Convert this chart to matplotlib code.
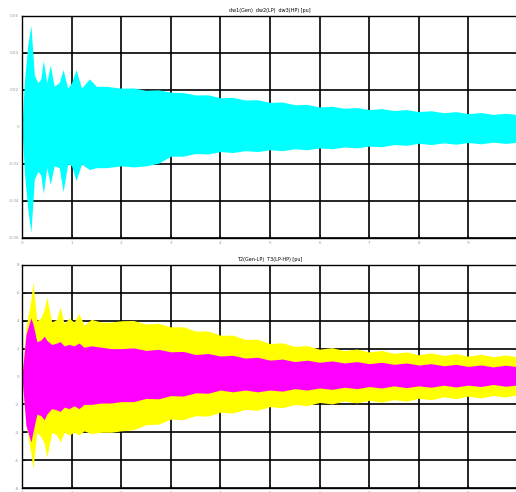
"""
Torsional oscillation plot: speed deviations and shaft torques.
"""

import matplotlib.pyplot as plt

# speed deviations [pu] - band envelope (peaks)
t_speed = [0, 0.05, 0.12, 0.18, 0.25, 0.32, 0.38, 0.43, 0.5, 0.57, 0.65, 0.75, 0.83,
           0.92, 1.0, 1.09, 1.2, 1.36, 1.5, 1.7, 2.0,
           2.25, 2.5, 2.75, 3.0, 3.25, 3.5, 3.75, 4.0, 4.25, 4.5, 4.75, 5.0, 5.25, 5.5,
           5.75, 6.0, 6.25, 6.5, 6.75, 7.0, 7.25, 7.5, 7.75, 8.0, 8.25, 8.5, 8.75, 9.0,
           9.25, 9.5, 9.75, 10.0]
dw_upper = [0.0, 0.025, 0.045, 0.055, 0.028, 0.024, 0.026, 0.036, 0.024, 0.0335, 0.022,
            0.024, 0.031, 0.021, 0.024, 0.031, 0.021, 0.026, 0.022, 0.022, 0.021,
            0.0211, 0.0198, 0.0201, 0.0188, 0.0186, 0.0173, 0.0174, 0.0158, 0.0160,
            0.0146, 0.0147, 0.0133, 0.0135, 0.0120, 0.0122, 0.0108, 0.0112, 0.0101,
            0.0105, 0.0094, 0.0099, 0.0089, 0.0094, 0.0083, 0.0088, 0.0077, 0.0083,
            0.0072, 0.0078, 0.0068, 0.0074, 0.0067]
dw_lower = [0.0, -0.025, -0.045, -0.057, -0.028, -0.024, -0.026, -0.036, -0.022, -0.031,
            -0.021, -0.022, -0.035, -0.02, -0.021, -0.029, -0.02, -0.023, -0.022, -0.022,
            -0.021,
            -0.0216, -0.0210, -0.0196, -0.0158, -0.0158, -0.0143, -0.0146, -0.0133,
            -0.0138, -0.0128, -0.0133, -0.0123, -0.0128, -0.0118, -0.0123, -0.0113,
            -0.0118, -0.0108, -0.0113, -0.0103, -0.0107, -0.0095, -0.0099, -0.0088,
            -0.0095, -0.0086, -0.0093, -0.0084, -0.0091, -0.0082, -0.0089, -0.0082]

# shaft torques [pu]
t_torque = [0, 0.08, 0.18, 0.22, 0.3, 0.38, 0.45, 0.5, 0.6, 0.7, 0.77, 0.85, 0.95, 1.05,
            1.15, 1.25, 1.4, 1.6, 1.8, 2.0,
            2.25, 2.5, 2.75, 3.0, 3.25, 3.5, 3.75, 4.0, 4.25, 4.5, 4.75, 5.0, 5.25, 5.5,
            5.75, 6.0, 6.25, 6.5, 6.75, 7.0, 7.25, 7.5, 7.75, 8.0, 8.25, 8.5, 8.75, 9.0,
            9.25, 9.5, 9.75, 10.0]
t3_upper = [0, 3.5, 5.5, 6.8, 4.0, 4.2, 4.8, 5.7, 3.9, 4.1, 5.0, 3.8, 4.2, 3.9, 4.5, 3.7,
            4.1, 3.9, 3.9, 4.0,
            4.02, 3.76, 3.82, 3.56, 3.57, 3.26, 3.27, 2.96, 2.97, 2.66, 2.67, 2.36, 2.42,
            2.16, 2.22, 1.96, 2.07, 1.86, 1.97, 1.76, 1.87, 1.66, 1.77, 1.56, 1.70, 1.51,
            1.64, 1.46, 1.60, 1.41, 1.54, 1.4]
t3_lower = [0, -3.5, -5.5, -6.6, -4.0, -4.3, -4.8, -5.8, -4.0, -4.2, -4.7, -4.0, -4.2,
            -4.0, -4.2, -3.9, -4.1, -4.0, -4.0, -3.9,
            -3.82, -3.46, -3.42, -3.06, -3.09, -2.81, -2.84, -2.56, -2.62, -2.36, -2.42,
            -2.16, -2.24, -2.01, -2.09, -1.86, -1.97, -1.76, -1.89, -1.71, -1.84, -1.66,
            -1.77, -1.56, -1.67, -1.46, -1.59, -1.41, -1.54, -1.36, -1.47, -1.3]
t2_upper = [0, 3.0, 4.2, 3.8, 2.5, 2.6, 2.9, 2.6, 2.3, 2.4, 2.5, 2.2, 2.3, 2.2, 2.4, 2.1,
            2.2, 2.1, 2.0, 2.0,
            2.05, 1.87, 1.95, 1.77, 1.8, 1.57, 1.65, 1.47, 1.52, 1.32, 1.38, 1.17, 1.25,
            1.07, 1.17, 1.02, 1.12, 0.97, 1.07, 0.92, 1.02, 0.87, 0.97, 0.82, 0.92, 0.77,
            0.87, 0.72, 0.83, 0.69, 0.81, 0.7]
t2_lower = [0, -3.5, -4.7, -4.0, -2.7, -2.8, -3.1, -2.7, -2.3, -2.4, -2.5, -2.2, -2.3,
            -2.1, -2.3, -2.0, -2.0, -1.9, -1.9, -1.8,
            -1.8, -1.57, -1.6, -1.37, -1.4, -1.17, -1.2, -0.97, -1.1, -0.97, -1.1, -0.97,
            -1.05, -0.87, -0.97, -0.82, -0.92, -0.77, -0.87, -0.72, -0.82, -0.67, -0.8,
            -0.67, -0.77, -0.62, -0.75, -0.62, -0.72, -0.57, -0.7, -0.6]

x_ticks = list(range(0, 11))
speed_ticks = [-0.06, -0.04, -0.02, 0, 0.02, 0.04, 0.06]
speed_labels = ["-0.06", "-0.04", "-0.02", "0", "0.02", "0.04", "0.06"]
torque_ticks = [-8, -6, -4, -2, 0, 2, 4, 6, 8]


def style_axes(ax, yticks, ylabels):
    ax.set_xlim(0, 10)
    ax.set_xticks(x_ticks)
    ax.set_yticks(yticks)
    ax.set_yticklabels(ylabels)
    ax.grid(True, color="black", linewidth=1.2, linestyle="-")
    ax.set_axisbelow(True)
    ax.tick_params(direction="in", length=2, width=0.6, labelsize=3,
                   labelcolor="#999999", pad=2)
    for spine in ax.spines.values():
        spine.set_linewidth(1.0)


fig = plt.figure(figsize=(5.16, 4.92), dpi=100)

# upper panel: speed deviations
ax1 = fig.add_axes([0.0426, 0.5163, 0.9612, 0.4512])
ax1.fill_between(t_speed, dw_lower, dw_upper, color="#00ffff", linewidth=0)
ax1.set_ylim(-0.06, 0.06)
style_axes(ax1, speed_ticks, speed_labels)
ax1.set_title("dw1(Gen)  dw2(LP)  dw3(HP) [pu]", fontsize=3.5, pad=3)

# lower panel: shaft torques
ax2 = fig.add_axes([0.0426, 0.0081, 0.9612, 0.4533])
ax2.fill_between(t_torque, t3_lower, t3_upper, color="#ffff00", linewidth=0)
ax2.fill_between(t_torque, t2_lower, t2_upper, color="#ff00ff", linewidth=0)
ax2.set_ylim(-8, 8)
style_axes(ax2, torque_ticks, [str(v) for v in torque_ticks])
ax2.set_title("T2(Gen-LP)  T3(LP-HP) [pu]", fontsize=3.5, pad=3)

fig.savefig("out.png", dpi=100)
plt.close(fig)
